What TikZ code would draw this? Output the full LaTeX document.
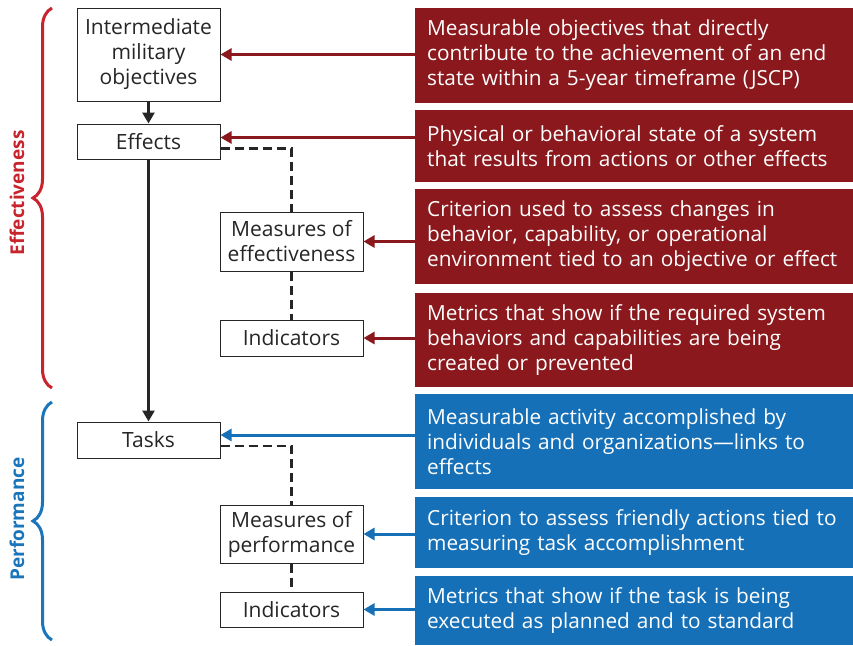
\documentclass[tikz,border=0pt]{standalone}
\usepackage{fontspec}
\setmainfont{Open Sans}
\usetikzlibrary{arrows.meta,decorations.pathreplacing}

\definecolor{darkred}{RGB}{138,24,28}
\definecolor{midblue}{RGB}{21,112,184}
\definecolor{bracered}{RGB}{200,36,46}
\definecolor{braceblue}{RGB}{27,117,187}

\tikzset{
	stagebox/.style={draw=black!85, line width=1pt, fill=white, minimum width=143pt,
		inner sep=0pt, align=center, text=black!85, font=\fontsize{21}{25}\selectfont},
	notebox/.style={anchor=west, text=white, minimum width=438pt, text width=424pt,
		inner xsep=12pt, inner ysep=0pt, align=left, font=\fontsize{20.8}{25}\selectfont},
	redbox/.style={notebox, fill=darkred},
	bluebox/.style={notebox, fill=midblue},
	redlink/.style={draw=darkred, line width=3pt, -{Triangle[length=11pt,width=12pt]}},
	bluelink/.style={draw=midblue, line width=3pt, -{Triangle[length=11pt,width=12pt]}},
	flowlink/.style={draw=black!85, line width=3pt, -{Triangle[length=11pt,width=12pt]}},
	dashlink/.style={draw=black!85, line width=2.5pt, dash pattern=on 9pt off 5pt},
	bracepath/.style={line width=3pt, decorate, decoration={brace, amplitude=19pt}},
	sidelabel/.style={rotate=90, font=\fontsize{19}{22}\selectfont\bfseries}
}

\begin{document}
\begin{tikzpicture}[x=1pt,y=-1pt]
	\useasboundingbox (0,0) rectangle (853,645);

	% left column
	\node[stagebox, minimum height=93pt] (imo) at (148.5,54.5) {Intermediate\\military\\objectives};
	\node[stagebox, minimum height=35pt] (eff) at (148.5,141.5) {Effects};
	\node[stagebox, minimum height=36pt] (tsk) at (148.5,440) {Tasks};

	% measures and indicators
	\node[stagebox, minimum height=59pt] (moe) at (291.5,241.5) {Measures of\\effectiveness};
	\node[stagebox, minimum height=36pt] (indeff) at (291.5,338) {Indicators};
	\node[stagebox, minimum height=58pt] (mop) at (291.5,534) {Measures of\\performance};
	\node[stagebox, minimum height=35pt] (indperf) at (291.5,609.5) {Indicators};

	% descriptions
	\node[redbox, minimum height=95pt] (dimo) at (415,55.5)
		{Measurable objectives that directly\\contribute to the achievement of an end\\state within a 5-year timeframe (JSCP)};
	\node[redbox, minimum height=72pt] (deff) at (415,146)
		{Physical or behavioral state of a system\\that results from actions or other effects};
	\node[redbox, minimum height=95pt] (dmoe) at (415,236.5)
		{Criterion used to assess changes in\\behavior, capability, or operational\\environment tied to an objective or effect};
	\node[redbox, minimum height=94pt] (dindeff) at (415,340)
		{Metrics that show if the required system\\behaviors and capabilities are being\\created or prevented};
	\node[bluebox, minimum height=95pt] (dtsk) at (415,441.5)
		{Measurable activity accomplished by\\individuals and organizations---links to\\effects};
	\node[bluebox, minimum height=71pt] (dmop) at (415,532.5)
		{Criterion to assess friendly actions tied to\\measuring task accomplishment};
	\node[bluebox, minimum height=69pt] (dindperf) at (415,610.5)
		{Metrics that show if the task is being\\executed as planned and to standard};

	% where links meet effects and tasks
	\coordinate (effin) at ([yshift=4pt]eff.east);
	\coordinate (effout) at ([yshift=-7pt]eff.east);
	\coordinate (tskin) at ([yshift=5pt]tsk.east);
	\coordinate (tskout) at ([yshift=-6pt]tsk.east);

	\draw[flowlink] (imo) -- (eff);
	\draw[flowlink] (eff) -- (tsk);

	\draw[dashlink] (effout) -| (moe.north);
	\draw[dashlink] (moe) -- (indeff);
	\draw[dashlink] (tskout) -| (mop.north);
	\draw[dashlink] (mop) -- (indperf);

	\draw[redlink] (dimo.west |- imo.east) -- (imo.east);
	\draw[redlink] (effin -| deff.west) -- (effin);
	\draw[redlink] (dmoe.west |- moe.east) -- (moe.east);
	\draw[redlink] (dindeff.west |- indeff.east) -- (indeff.east);
	\draw[bluelink] (tskin -| dtsk.west) -- (tskin);
	\draw[bluelink] (dmop.west |- mop.east) -- (mop.east);
	\draw[bluelink] (dindperf.west |- indperf.east) -- (indperf.east);

	% braces
	\draw[bracepath, bracered] (52,388) -- (52,8);
	\draw[bracepath, braceblue] (52,640) -- (52,402);
	\node[sidelabel, text=bracered] (efflabel) at (17,193) {Effectiveness};
	\node[sidelabel, text=braceblue] (perflabel) at (17,519) {Performance};
\end{tikzpicture}
\end{document}
